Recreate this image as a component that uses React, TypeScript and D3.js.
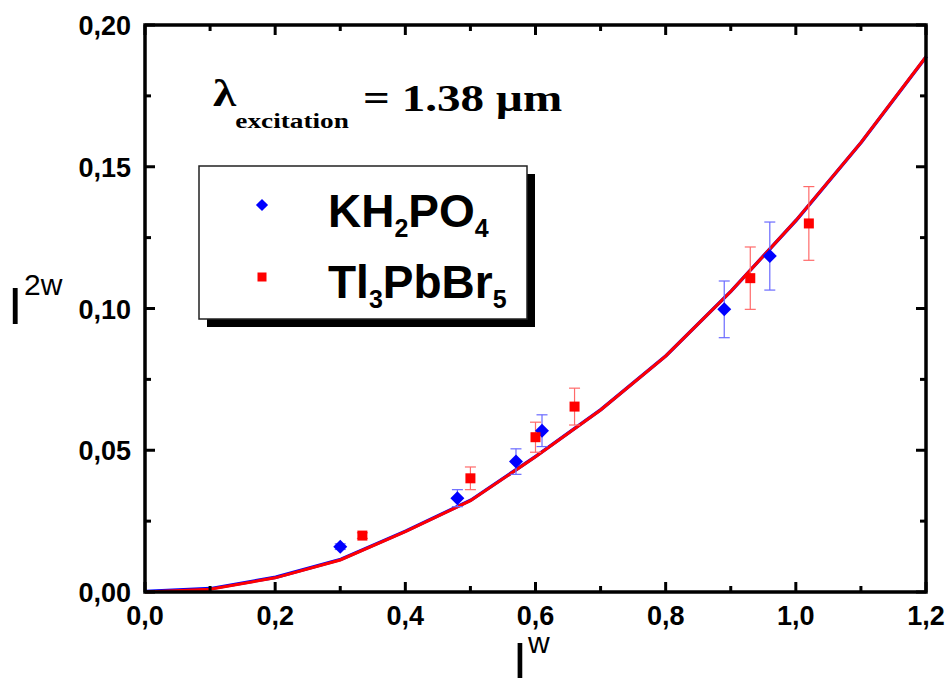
import React from "react";
import * as d3 from "d3";

const W = 950;
const H = 680;

// Data
const kdpX = [0.30, 0.48, 0.57, 0.61, 0.89, 0.96];
const kdpY = [0.016, 0.0331, 0.046, 0.0569, 0.0997, 0.1185];
const kdpErr = [0.001, 0.003, 0.0045, 0.0056, 0.010, 0.012];

const tpbX = [0.334, 0.50, 0.60, 0.66, 0.93, 1.02];
const tpbY = [0.0199, 0.0401, 0.0546, 0.0654, 0.1107, 0.130];
const tpbErr = [0.001, 0.004, 0.0053, 0.0065, 0.011, 0.013];

const fitX = [0, 0.1, 0.2, 0.3, 0.4, 0.5, 0.6, 0.7, 0.8, 0.9, 1.0, 1.1, 1.2];
const fitY = [0, 0.001, 0.005, 0.0113, 0.0213, 0.0322, 0.0477, 0.0642, 0.0832, 0.106, 0.131, 0.1585, 0.1888];

const xTickLabels = ["0,0", "0,2", "0,4", "0,6", "0,8", "1,0", "1,2"];
const yTickLabels = ["0,00", "0,05", "0,10", "0,15", "0,20"];

const L = 145, R = 926, T = 25, B = 592;

export default function App() {
  const x = d3.scaleLinear().domain([0, 1.2]).range([L, R]);
  const y = d3.scaleLinear().domain([0, 0.2]).range([B, T]);

  const xMajor = d3.range(0, 7).map((i) => i * 0.2);
  const xMinor = d3.range(0, 6).map((i) => 0.1 + i * 0.2);
  const yMajor = d3.range(0, 5).map((i) => i * 0.05);
  const yMinor = d3.range(0, 4).map((i) => 0.025 + i * 0.05);

  const fitPts: [number, number][] = fitX.map((v, i) => [v, fitY[i]]);
  const line = d3
    .line<[number, number]>()
    .x((d) => x(d[0]))
    .y((d) => y(d[1]));
  const path = line(fitPts) || "";

  const diamond = d3.symbol().type(d3.symbolDiamond2 || d3.symbolDiamond).size(125)() || "";
  const legendDiamond = d3.symbol().type(d3.symbolDiamond2 || d3.symbolDiamond).size(95)() || "";

  const capW = 5.5;
  const tickFont = "'Liberation Sans', Arial, sans-serif";

  return (
    <svg
      width={W}
      height={H}
      style={{ position: "absolute", left: 0, top: 0, background: "#fff" }}
      xmlns="http://www.w3.org/2000/svg"
    >
      <rect x={0} y={0} width={W} height={H} fill="#fff" />

      {/* fit curves */}
      <path d={path} fill="none" stroke="#0000ff" strokeWidth={3.4} transform="translate(0.6,-0.6)" />
      <path d={path} fill="none" stroke="#ff0000" strokeWidth={3} />

      {/* error bars KDP */}
      {kdpX.map((v, i) => (
        <g key={"ke" + i} stroke="#6a6aff" strokeWidth={1.2}>
          <line x1={x(v)} x2={x(v)} y1={y(kdpY[i] - kdpErr[i])} y2={y(kdpY[i] + kdpErr[i])} />
          <line x1={x(v) - capW} x2={x(v) + capW} y1={y(kdpY[i] + kdpErr[i])} y2={y(kdpY[i] + kdpErr[i])} />
          <line x1={x(v) - capW} x2={x(v) + capW} y1={y(kdpY[i] - kdpErr[i])} y2={y(kdpY[i] - kdpErr[i])} />
        </g>
      ))}
      {/* error bars TPB */}
      {tpbX.map((v, i) => (
        <g key={"te" + i} stroke="#ff6a6a" strokeWidth={1.2}>
          <line x1={x(v)} x2={x(v)} y1={y(tpbY[i] - tpbErr[i])} y2={y(tpbY[i] + tpbErr[i])} />
          <line x1={x(v) - capW} x2={x(v) + capW} y1={y(tpbY[i] + tpbErr[i])} y2={y(tpbY[i] + tpbErr[i])} />
          <line x1={x(v) - capW} x2={x(v) + capW} y1={y(tpbY[i] - tpbErr[i])} y2={y(tpbY[i] - tpbErr[i])} />
        </g>
      ))}

      {/* markers */}
      {kdpX.map((v, i) => (
        <path key={"k" + i} d={diamond} transform={`translate(${x(v)},${y(kdpY[i])})`} fill="#0000ff" />
      ))}
      {tpbX.map((v, i) => (
        <rect key={"t" + i} x={x(v) - 5} y={y(tpbY[i]) - 5} width={10} height={10} fill="#ff0000" />
      ))}

      {/* frame */}
      <rect x={L} y={T} width={R - L} height={B - T} fill="none" stroke="#000" strokeWidth={3.5} />

      {/* ticks */}
      <g stroke="#000" strokeWidth={3}>
        {xMajor.map((v, i) => (
          <g key={"xm" + i}>
            <line x1={x(v)} x2={x(v)} y1={B} y2={B - 10} />
            <line x1={x(v)} x2={x(v)} y1={T} y2={T + 10} />
          </g>
        ))}
        {xMinor.map((v, i) => (
          <g key={"xn" + i}>
            <line x1={x(v)} x2={x(v)} y1={B} y2={B - 6} />
            <line x1={x(v)} x2={x(v)} y1={T} y2={T + 6} />
          </g>
        ))}
        {yMajor.map((v, i) => (
          <g key={"ym" + i}>
            <line x1={L} x2={L + 10} y1={y(v)} y2={y(v)} />
            <line x1={R} x2={R - 10} y1={y(v)} y2={y(v)} />
          </g>
        ))}
        {yMinor.map((v, i) => (
          <g key={"yn" + i}>
            <line x1={L} x2={L + 6} y1={y(v)} y2={y(v)} />
            <line x1={R} x2={R - 6} y1={y(v)} y2={y(v)} />
          </g>
        ))}
      </g>

      {/* tick labels */}
      <g fontFamily={tickFont} fontWeight="bold" fontSize={27} fill="#000">
        {xMajor.map((v, i) => (
          <text key={"xl" + i} x={x(v)} y={625} textAnchor="middle">
            {xTickLabels[i]}
          </text>
        ))}
        {yMajor.map((v, i) => (
          <text key={"yl" + i} x={131} y={y(v) + 10} textAnchor="end">
            {yTickLabels[i]}
          </text>
        ))}
      </g>

      {/* axis titles */}
      <g fontFamily={tickFont} fill="#000">
        <text x={8} y={324} fontSize={52}>I</text>
        <text x={24} y={295} fontSize={30}>2w</text>
        <text x={513} y={678} fontSize={50}>I</text>
        <text x={528} y={653} fontSize={30}>w</text>
      </g>

      {/* annotation */}
      <g transform="translate(213,0) scale(1.24,1)" fontFamily="'Liberation Serif', 'Times New Roman', serif" fontWeight="bold" fill="#000">
        <text x={0} y={106} fontSize={38}>λ</text>
        <text x={18} y={128} fontSize={22}>excitation</text>
        <text x={121} y={111} fontSize={38}>= 1.38 µm</text>
      </g>

      {/* legend */}
      <rect x={207} y={174} width={328} height={153} fill="#000" />
      <rect x={199} y={166} width={328} height={153} fill="#fff" stroke="#222" strokeWidth={1.5} />
      <path d={legendDiamond} transform="translate(262,205)" fill="#0000ff" />
      <rect x={257.5} y={272.5} width={9} height={9} fill="#ff0000" />
      <g fontFamily={tickFont} fontWeight="bold" fill="#000">
        <text x={328} y={227} fontSize={46}>
          KH<tspan fontSize={25} dy={10}>2</tspan>
          <tspan dy={-10}>PO</tspan>
          <tspan fontSize={25} dy={10}>4</tspan>
        </text>
        <text x={328} y={298} fontSize={46}>
          Tl<tspan fontSize={25} dy={10}>3</tspan>
          <tspan dy={-10}>PbBr</tspan>
          <tspan fontSize={25} dy={10}>5</tspan>
        </text>
      </g>
    </svg>
  );
}
